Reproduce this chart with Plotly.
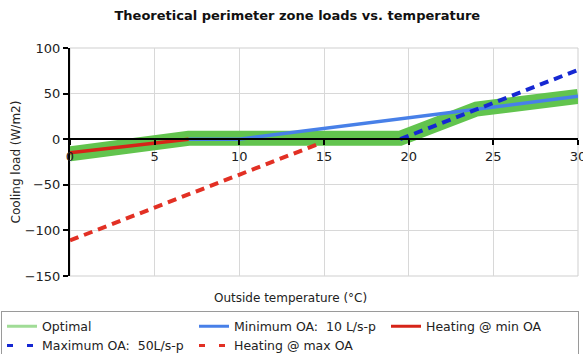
import plotly.graph_objects as go

# Outside temperature (°C) and cooling load (W/m2) for each operating curve
optimal_t = [0, 7, 19.5, 24, 30]
optimal_q = [-16, 1, 1, 33, 47]

min_oa_t = [7, 10, 30]
min_oa_q = [0, 0, 47]

max_oa_t = [19.5, 30]
max_oa_q = [0, 76]

heat_min_t = [0, 7]
heat_min_q = [-15, 0]

heat_max_t = [0, 14.7]
heat_max_q = [-111, -5]

x_ticks = [0, 5, 10, 15, 20, 25, 30]
y_ticks = [-150, -100, -50, 0, 50, 100]

FONT = "DejaVu Sans"
TXT = "#222222"

GREEN = "rgb(98,196,78)"
GREEN_LEG = "rgb(160,220,150)"
BLUE = "rgb(72,128,232)"
DBLUE = "rgb(22,40,210)"
RED = "rgb(214,36,24)"
RED_D = "rgb(226,48,36)"

fig = go.Figure()

# plotted curves (legend entries are drawn by the proxies below)
fig.add_trace(go.Scatter(x=optimal_t, y=optimal_q, mode="lines",
                         line=dict(color=GREEN, width=15), showlegend=False,
                         legendgroup="opt"))
fig.add_trace(go.Scatter(x=min_oa_t, y=min_oa_q, mode="lines",
                         line=dict(color=BLUE, width=3.5), showlegend=False,
                         legendgroup="min"))
fig.add_trace(go.Scatter(x=heat_min_t, y=heat_min_q, mode="lines",
                         line=dict(color=RED, width=3.5), showlegend=False,
                         legendgroup="hmin"))
fig.add_trace(go.Scatter(x=max_oa_t, y=max_oa_q, mode="lines",
                         line=dict(color=DBLUE, width=4, dash="9px,6px"),
                         showlegend=False, legendgroup="max"))
fig.add_trace(go.Scatter(x=heat_max_t, y=heat_max_q, mode="lines",
                         line=dict(color=RED_D, width=4, dash="9px,6px"),
                         showlegend=False, legendgroup="hmax"))

# legend proxies
NB = "\u00a0"
legend_items = [
    ("Optimal", GREEN_LEG, "solid", "opt"),
    ("Minimum OA:" + NB * 2 + "10 L/s-p", BLUE, "solid", "min"),
    ("Heating @ min OA", RED, "solid", "hmin"),
    ("Maximum OA:" + NB * 2 + "50L/s-p", DBLUE, "6px,14px", "max"),
    ("Heating @ max OA", RED_D, "6px,14px", "hmax"),
]
for name, col, dash, grp in legend_items:
    fig.add_trace(go.Scatter(x=[None], y=[None], mode="lines", name=name,
                             line=dict(color=col, width=3, dash=dash),
                             legendgroup=grp))

fig.update_layout(
    width=583, height=354,
    margin=dict(l=70, r=5, t=48, b=78, autoexpand=False),
    paper_bgcolor="white", plot_bgcolor="white",
    font=dict(family=FONT, size=13, color=TXT),
    title=dict(text="Theoretical perimeter zone loads vs. temperature",
               font=dict(family=FONT, size=13, color="#111111", weight="bold"),
               x=0.51, xanchor="center", xref="container",
               y=1 - 15 / 354, yanchor="middle", yref="container"),
    xaxis=dict(range=[0, 30], tickvals=x_ticks, showgrid=True,
               gridcolor="#d8d8d8", gridwidth=1,
               anchor="free", position=150 / 250,
               showline=True, linecolor="black", linewidth=2,
               ticks="outside", ticklen=5, tickwidth=2, tickcolor="black",
               zeroline=False, ticklabeloverflow="allow",
               tickfont=dict(size=13, color=TXT)),
    yaxis=dict(range=[-150, 100], tickvals=y_ticks, showgrid=True,
               gridcolor="#d8d8d8", gridwidth=1,
               showline=True, linecolor="black", linewidth=2,
               ticks="outside", ticklen=5, tickwidth=2, tickcolor="black",
               zeroline=False, tickfont=dict(size=13, color=TXT),
               title=dict(text="Cooling load (W/m2)", standoff=1,
                          font=dict(size=12, color=TXT))),
    legend=dict(orientation="h", x=(1 - 70) / 508, xanchor="left",
                y=(276 - 310.5) / 228, yanchor="top",
                bordercolor="#9a9a9a", borderwidth=1, bgcolor="white",
                font=dict(family=FONT, size=12.5, color=TXT),
                entrywidth=147, entrywidthmode="pixels",
                tracegroupgap=0, traceorder="normal"),
    showlegend=True,
)

# x-axis title sits below the plot frame, not under the zero line
fig.add_annotation(text="Outside temperature (°C)", xref="paper", yref="paper",
                   x=0.435, y=(276 - 298) / 228, xanchor="center", yanchor="middle",
                   showarrow=False, font=dict(family=FONT, size=12, color=TXT))

# light frame around the plotting area
fig.add_shape(type="rect", xref="paper", yref="paper", x0=0, x1=1, y0=0, y1=1,
              line=dict(color="#cfcfcf", width=1), layer="below")

fig.write_html("out.html")
